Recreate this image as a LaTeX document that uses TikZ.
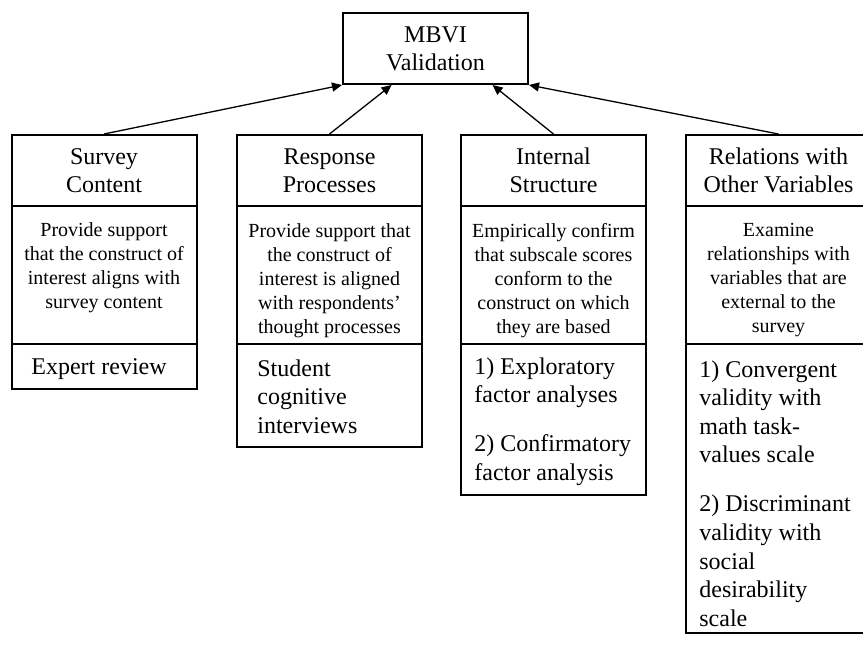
\documentclass[tikz,border=0pt]{standalone}
\usepackage{fontspec}
\setmainfont{Liberation Serif}
\usetikzlibrary{arrows.meta,calc}
\begin{document}
\begin{tikzpicture}[x=0.5pt,y=-0.5pt,
  cell/.style={draw,line width=1pt,minimum width=92.5pt,inner sep=0pt,align=center},
  big/.style={font=\fontsize{12}{14}\selectfont},
  small/.style={font=\fontsize{10}{12}\selectfont},
  ctext/.style={inner sep=0pt,align=center},
  ltext/.style={inner sep=0pt,align=left,anchor=west,font=\fontsize{12}{14.3}\selectfont},
  arr/.style={line width=0.65pt,-{Triangle[length=5pt,width=4.5pt]}}]
\clip (0,0) rectangle (863,644);
% top box
\node[cell,big,minimum height=35.5pt] (top) at (435.5,48.5) {MBVI\\Validation};
% headers
\node[cell,big,minimum height=35.5pt] (h1) at (104,170.5) {Survey\\Content};
\node[cell,big,minimum height=35.5pt] (h2) at (329.5,170.5) {Response\\Processes};
\node[cell,big,minimum height=35.5pt] (h3) at (553.5,170.5) {Internal\\Structure};
\node[cell,big,minimum height=35.5pt] (h4) at (778.5,170.5) {Relations with\\Other Variables};
% descriptions
\node[cell,minimum height=69pt] (d1) at (104,275) {};
\node[cell,minimum height=69pt] (d2) at (329.5,275) {};
\node[cell,minimum height=69pt] (d3) at (553.5,275) {};
\node[cell,minimum height=69pt] (d4) at (778.5,275) {};
\node[ctext,small] (d1t) at (104,268) {Provide support\\that the construct of\\interest aligns with\\survey content};
\node[ctext,small] (d2t) at (329.5,280.5) {Provide support that\\the construct of\\interest is aligned\\with respondents’\\thought processes};
\node[ctext,small] (d3t) at (553.5,280.5) {Empirically confirm\\that subscale scores\\conform to the\\construct on which\\they are based};
\node[ctext,small] (d4t) at (778.5,280.5) {Examine\\relationships with\\variables that are\\external to the\\survey};
% methods
\node[cell,minimum height=22.5pt] (m1) at (104,366.5) {};
\node[cell,minimum height=51.5pt] (m2) at (329.5,395.5) {};
\node[cell,minimum height=75.5pt] (m3) at (553.5,419.5) {};
\node[cell,minimum height=144.5pt] (m4) at (778.5,488.5) {};
\node[ltext] (m1t) at (31,369.5) {Expert review};
\node[ltext] (m2t) at (257,396.5) {Student\\cognitive\\interviews};
\node[ltext] (m3t) at (474,421.5) {1) Exploratory\\factor analyses\\[10pt]2) Confirmatory\\factor analysis};
\node[ltext] (m4t) at (699,493.5) {1) Convergent\\validity with\\math task-\\values scale\\[10.2pt]2) Discriminant\\validity with\\social\\desirability\\scale};
% arrows
\draw[arr] (h1.north) -- (top.south west);
\draw[arr] (h2.north) -- ($(top.south west)!0.265!(top.south east)$);
\draw[arr] (h3.north) -- ($(top.south west)!0.805!(top.south east)$);
\draw[arr] (h4.north) -- (top.south east);
\end{tikzpicture}
\end{document}
